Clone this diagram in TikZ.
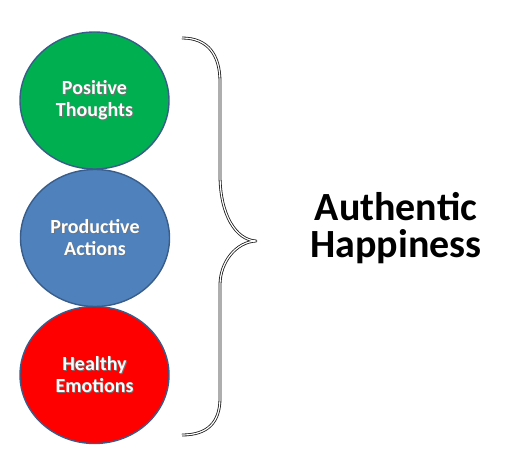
\documentclass[tikz,border=0pt]{standalone}
\usepackage{fontspec}
\setmainfont{Carlito}
\usetikzlibrary{shapes.geometric}
\definecolor{ogreen}{HTML}{00B050}
\definecolor{oblue}{HTML}{4F81BD}
\definecolor{ored}{HTML}{FF0000}
\definecolor{oline}{HTML}{385D8A}
\newcommand\shd[1]{\leavevmode\rlap{\kern0.9pt\raisebox{-0.9pt}{\textcolor{black!55}{#1}}}#1}
\tikzset{
  ball/.style={ellipse, draw=oline, line width=1.4pt, minimum width=149pt, minimum height=137pt, inner sep=0pt,
    text=white, align=center, font=\fontsize{20}{22}\selectfont\bfseries},
  bracepath/.style={draw=black!90, line width=0.8pt, double=white, double distance=1.2pt, line join=round},
  bigtext/.style={align=center, font=\fontsize{40}{37.5}\selectfont\bfseries}
}
\begin{document}
\begin{tikzpicture}[x=1pt,y=-1pt]
\useasboundingbox (0,0) rectangle (525,465);
\node[ball, fill=ogreen] (g) at (94.5,100.5) {\shd{Positive}\\\shd{Thoughts}};
\node[ball, fill=oblue] (b) at (95,238) {\shd{Productive}\\\shd{Actions}};
\node[ball, fill=ored] (r) at (94.5,375) {\shd{Healthy}\\\shd{Emotions}};
\coordinate (bt) at (182,38);
\coordinate (tip) at (256,241);
\coordinate (bb) at (182,435);
\draw[bracepath] (bt) .. controls (208,38) and (220,55) .. (220,82)
  -- (220,175) .. controls (220,215) and (236,240) .. (tip)
  .. controls (236,242) and (220,262) .. (220,285)
  -- (220,398) .. controls (220,422) and (208,435) .. (bb);
\node[bigtext] (ah) at (396,228) {Authentic\\Happiness};
\end{tikzpicture}
\end{document}
